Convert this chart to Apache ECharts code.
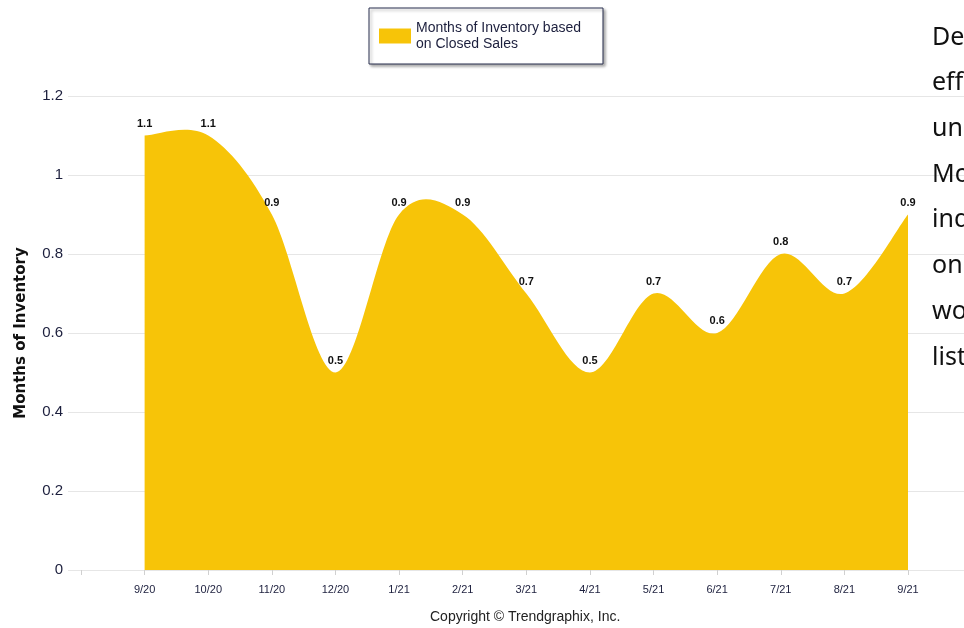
<!DOCTYPE html>
<html>
<head>
<meta charset="utf-8">
<script src="https://cdn.jsdelivr.net/npm/echarts@6/dist/echarts.min.js"></script>
<style>
  html, body { margin: 0; padding: 0; background: #fff; }
  #chart { width: 964px; height: 628px; }
</style>
</head>
<body>
<div id="chart"></div>
<script>
// Monthly categories (leading blank slot keeps the first month off the axis edge)
const months = ['', '9/20', '10/20', '11/20', '12/20', '1/21', '2/21', '3/21', '4/21', '5/21', '6/21', '7/21', '8/21', '9/21'];
// Months of inventory based on closed sales
const inventory = ['-', 1.1, 1.1, 0.9, 0.5, 0.9, 0.9, 0.7, 0.5, 0.7, 0.6, 0.8, 0.7, 0.9];
const seriesName = 'Months of Inventory based on Closed Sales';
// Side-column text lines beside the chart
const sideText = ['Demand', 'effectively', 'under', 'Months', 'indicates', 'only', 'would', 'listings'];

const narrow = "'Liberation Sans Narrow', 'Arial Narrow', 'Liberation Sans', sans-serif";
const navy = '#1c1f3d';
const gold = '#F7C408';

const chart = echarts.init(document.getElementById('chart'));

const sideGraphics = sideText.map((t, i) => ({
  type: 'text',
  left: 932,
  top: 25 + i * 45.7,
  z: 10,
  style: { text: t, font: "25px 'Noto Sans', 'Open Sans', sans-serif", fill: '#111' }
}));

// Filled area bounded by a Catmull-Rom spline through the monthly values
function renderArea(params, api) {
  if (params.dataIndex !== months.length - 1) return null;
  const pts = [];
  for (let i = 0; i < months.length; i++) {
    if (typeof inventory[i] === 'number') pts.push(api.coord([i, inventory[i]]));
  }
  const base = api.coord([0, 0])[1];
  let d = 'M' + pts[0][0] + ',' + base + ' L' + pts[0][0] + ',' + pts[0][1];
  for (let i = 0; i < pts.length - 1; i++) {
    const p0 = pts[i - 1] || pts[i];
    const p1 = pts[i];
    const p2 = pts[i + 1];
    const p3 = pts[i + 2] || pts[i + 1];
    const c1x = p1[0] + (p2[0] - p0[0]) / 6, c1y = p1[1] + (p2[1] - p0[1]) / 6;
    const c2x = p2[0] - (p3[0] - p1[0]) / 6, c2y = p2[1] - (p3[1] - p1[1]) / 6;
    d += ' C' + c1x + ',' + c1y + ' ' + c2x + ',' + c2y + ' ' + p2[0] + ',' + p2[1];
  }
  const last = pts[pts.length - 1];
  d += ' L' + last[0] + ',' + base + ' Z';
  return { type: 'path', shape: { pathData: d }, style: { fill: gold } };
}

chart.setOption({
  animation: false,
  grid: [
    { left: 81, right: 56, top: 96, bottom: 58, containLabel: false, outerBoundsMode: 'none' },
    { left: 68, right: 0, top: 96, bottom: 58, containLabel: false, outerBoundsMode: 'none' }
  ],
  legend: {
    left: 369, top: 8,
    padding: [12, 22, 12, 10],
    backgroundColor: '#fff',
    borderColor: '#2b3150', borderWidth: 1, borderRadius: 0,
    shadowColor: 'rgba(0,0,0,0.35)', shadowBlur: 3, shadowOffsetX: 2, shadowOffsetY: 2,
    itemWidth: 32, itemHeight: 15, itemGap: 0,
    data: [{ name: seriesName, icon: 'rect', itemStyle: { color: gold } }],
    formatter: () => 'Months of Inventory based\non Closed Sales',
    textStyle: { fontFamily: narrow, fontSize: 14, color: navy, lineHeight: 16 }
  },
  xAxis: [
    {
      type: 'category',
      gridIndex: 0,
      data: months,
      boundaryGap: false,
      axisLine: { show: false },
      axisTick: { show: true, length: 5, lineStyle: { color: '#d0d0d0' } },
      axisLabel: { fontFamily: narrow, fontSize: 11, color: navy, margin: 14, interval: 0 },
      splitLine: { show: false }
    },
    { type: 'value', gridIndex: 1, show: false, min: 0, max: 1 }
  ],
  yAxis: [
    {
      type: 'value',
      gridIndex: 0,
      min: 0, max: 1.2, interval: 0.2,
      name: 'Months of Inventory',
      nameLocation: 'middle',
      nameGap: 52,
      nameTextStyle: { fontFamily: "'DejaVu Sans', Verdana, sans-serif", fontWeight: 'bold', fontSize: 15, color: '#111' },
      axisLine: { show: false },
      axisTick: { show: false },
      axisLabel: {
        fontFamily: narrow, fontSize: 15, color: navy, margin: 18,
        formatter: v => String(Math.round(v * 10) / 10)
      },
      splitLine: { show: false }
    },
    {
      type: 'value',
      gridIndex: 1,
      min: 0, max: 1.2, interval: 0.2,
      axisLine: { show: false },
      axisTick: { show: false },
      axisLabel: { show: false },
      splitLine: { lineStyle: { color: '#e6e6e6' } }
    }
  ],
  series: [
    {
      name: seriesName,
      type: 'custom',
      xAxisIndex: 0, yAxisIndex: 0,
      color: gold,
      itemStyle: { color: gold },
      data: inventory.map((v, i) => [i, v === '-' ? 0 : v]),
      encode: { x: 0, y: 1 },
      renderItem: renderArea,
      z: 2
    },
    {
      name: 'values',
      type: 'line',
      xAxisIndex: 0, yAxisIndex: 0,
      data: inventory,
      symbol: 'circle',
      symbolSize: 1,
      showSymbol: true,
      itemStyle: { color: 'rgba(0,0,0,0)' },
      lineStyle: { width: 0, opacity: 0 },
      label: {
        show: true, position: 'top', distance: 6,
        fontFamily: narrow, fontWeight: 'bold', fontSize: 11, color: '#111',
        formatter: p => p.value
      },
      z: 5
    }
  ],
  graphic: [
    {
      type: 'text', left: 430, top: 610,
      style: { text: 'Copyright \u00A9 Trendgraphix, Inc.', font: "14px " + narrow, fill: '#222' }
    },
    ...sideGraphics
  ]
});
</script>
</body>
</html>
